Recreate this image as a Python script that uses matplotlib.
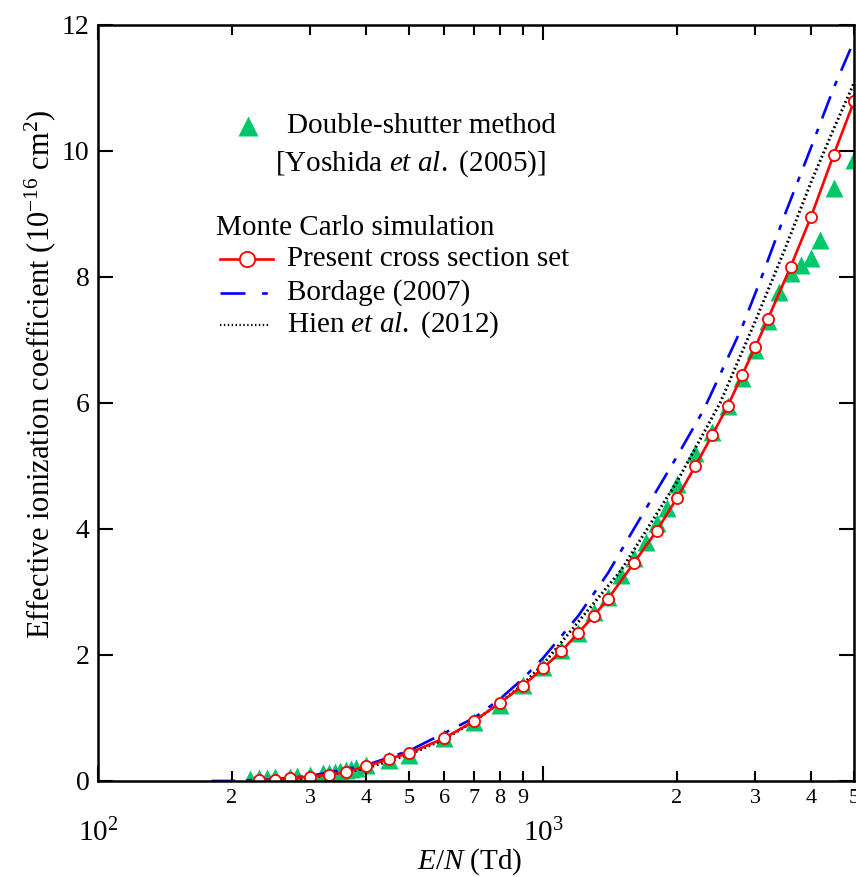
import numpy as np
import matplotlib
matplotlib.use("Agg")
import matplotlib.pyplot as plt
from matplotlib.lines import Line2D
from matplotlib.ticker import FixedLocator, FixedFormatter

plt.rcParams['font.family'] = ['Liberation Serif', 'DejaVu Serif']
plt.rcParams['mathtext.fontset'] = 'custom'
plt.rcParams['mathtext.rm'] = 'Liberation Serif'
plt.rcParams['mathtext.it'] = 'Liberation Serif:italic'
plt.rcParams['lines.scale_dashes'] = False

# Yoshida et al. (2005), double-shutter method
yoshida_en = [220, 230, 240, 250, 270, 280, 300, 320, 330, 340, 350, 360, 370, 380,
              400, 450, 500, 600, 700, 800, 900, 1000, 1100, 1200, 1300, 1400, 1500,
              1600, 1700, 1800, 1900, 2000, 2200, 2400, 2600, 2800, 3000, 3200, 3400,
              3600, 3800, 4000, 4200, 4500, 5000]
yoshida_alpha = [0.03, 0.04, 0.05, 0.06, 0.07, 0.08, 0.10, 0.12, 0.13, 0.14, 0.16, 0.17,
                 0.19, 0.21, 0.25, 0.33, 0.42, 0.68, 0.93, 1.21, 1.52, 1.81, 2.08, 2.35,
                 2.68, 2.92, 3.27, 3.54, 3.79, 4.09, 4.33, 4.71, 5.21, 5.54, 5.95, 6.40,
                 6.84, 7.30, 7.76, 8.06, 8.19, 8.30, 8.59, 9.41, 9.86]

# Monte Carlo, present cross section set
present_en = [230, 250, 270, 300, 330, 360, 400, 450, 500, 600, 700, 800, 900, 1000,
              1100, 1200, 1300, 1400, 1600, 1800, 2000, 2200, 2400, 2600, 2800, 3000,
              3200, 3600, 4000, 4500, 5000]
present_alpha = [0.01, 0.02, 0.04, 0.07, 0.10, 0.14, 0.23, 0.35, 0.44, 0.68, 0.95, 1.24,
                 1.51, 1.79, 2.06, 2.35, 2.62, 2.89, 3.46, 3.97, 4.49, 5.00, 5.49, 5.95,
                 6.44, 6.89, 7.33, 8.16, 8.95, 9.94, 10.79]

# Monte Carlo, Bordage (2007)
bordage_en = [180, 200, 250, 300, 400, 500, 600, 700, 800, 900, 1000, 1200, 1400, 1600,
              2000, 2300, 2800, 3100, 3500, 4000, 4500, 5000]
bordage_alpha = [0.0, 0.0, 0.03, 0.08, 0.25, 0.48, 0.76, 1.0, 1.3, 1.62, 1.95, 2.62, 3.3,
                 4.0, 5.15, 5.9, 7.2, 8.0, 9.0, 10.05, 11.0, 11.75]

# Monte Carlo, Hien et al. (2012)
hien_en = [230, 300, 400, 500, 600, 700, 800, 900, 1000, 1500, 2000, 2500, 3000, 3500,
           4000, 4500, 5000]
hien_alpha = [0.0, 0.05, 0.2, 0.42, 0.66, 0.95, 1.24, 1.53, 1.85, 3.35, 4.75, 6.0, 7.3,
              8.45, 9.5, 10.35, 11.08]

minor_ticks = [200, 300, 400, 500, 600, 700, 800, 900, 2000, 3000, 4000, 5000]
minor_labels = ['2', '3', '4', '5', '6', '7', '8', '9', '2', '3', '4', '5']

green = '#00c86a'

fig = plt.figure(figsize=(8.56, 8.77), dpi=100)
ax = fig.add_axes([0.1145, 0.1095, 0.8832, 0.862])

ax.plot(bordage_en, bordage_alpha, color='#0000ff', lw=1.9, dashes=(17, 8, 4, 8))
ax.plot(hien_en, hien_alpha, color='black', lw=2.1, dashes=(1.3, 2.0))
ax.plot(present_en, present_alpha, color='#ff0000', lw=1.9, marker='o', ms=8,
        mfc='white', mec='#ff0000', mew=1.3)
ax.plot(yoshida_en, yoshida_alpha, ls='none', marker='^', ms=13.5, color=green, mec='none',
        zorder=1.5)

ax.set_xscale('log')
ax.set_xlim(100, 5000)
ax.set_ylim(0, 12)

ax.xaxis.set_major_locator(FixedLocator([100, 1000]))
ax.xaxis.set_major_formatter(FixedFormatter(['$10^{2}$', '$10^{3}$']))
ax.xaxis.set_minor_locator(FixedLocator(minor_ticks))
ax.xaxis.set_minor_formatter(FixedFormatter(minor_labels))
ax.set_yticks([0, 2, 4, 6, 8, 10, 12])

ax.tick_params(axis='both', which='both', direction='in', top=True, right=True, width=1.5)
ax.tick_params(axis='x', which='major', length=11, pad=27, labelsize=21)
ax.tick_params(axis='x', which='minor', length=7, pad=6, labelsize=16)
ax.tick_params(axis='y', which='major', length=11, pad=6, labelsize=20)
for sp in ax.spines.values():
    sp.set_linewidth(1.8)

ax.set_xlabel('$E/N$ (Td)', fontsize=21)
ax.xaxis.label.set_va('center')
ax.xaxis.set_label_coords(0.492, -0.107)
ax.set_ylabel('Effective ionization coefficient (10$^{-16}$ cm$^{2}$)', fontsize=22)
ax.yaxis.label.set_va('center')
ax.yaxis.set_label_coords(-0.077, 0.538)

# legend drawn by hand to keep the original layout
tr = ax.transAxes
fs = 21
ax.add_line(Line2D([0.198], [0.866], transform=tr, ls='none', marker='^', ms=15,
                   color=green, mec='none'))
ax.text(0.25, 0.866, 'Double-shutter method', transform=tr, fontsize=fs, va='center')
ax.text(0.234, 0.816, '[Yoshida $et$ $al.$ (2005)]', transform=tr, fontsize=fs, va='center')
ax.text(0.156, 0.732, 'Monte Carlo simulation', transform=tr, fontsize=fs, va='center')
ax.add_line(Line2D([0.161, 0.231], [0.690, 0.690], transform=tr, color='#ff0000', lw=1.9))
ax.add_line(Line2D([0.197], [0.690], transform=tr, ls='none', marker='o', ms=11,
                   mfc='white', mec='#ff0000', mew=1.3))
ax.text(0.25, 0.690, 'Present cross section set', transform=tr, fontsize=fs, va='center')
ax.add_line(Line2D([0.161, 0.226], [0.646, 0.646], transform=tr, color='#0000ff', lw=1.9,
                   dashes=(18, 12, 4, 10)))
ax.text(0.25, 0.646, 'Bordage (2007)', transform=tr, fontsize=fs, va='center')
ax.add_line(Line2D([0.161, 0.228], [0.603, 0.603], transform=tr, color='black', lw=1.6,
                   dashes=(1.0, 1.8)))
ax.text(0.25, 0.603, 'Hien $et$ $al.$ (2012)', transform=tr, fontsize=fs, va='center')

fig.savefig('out.png', dpi=100)
